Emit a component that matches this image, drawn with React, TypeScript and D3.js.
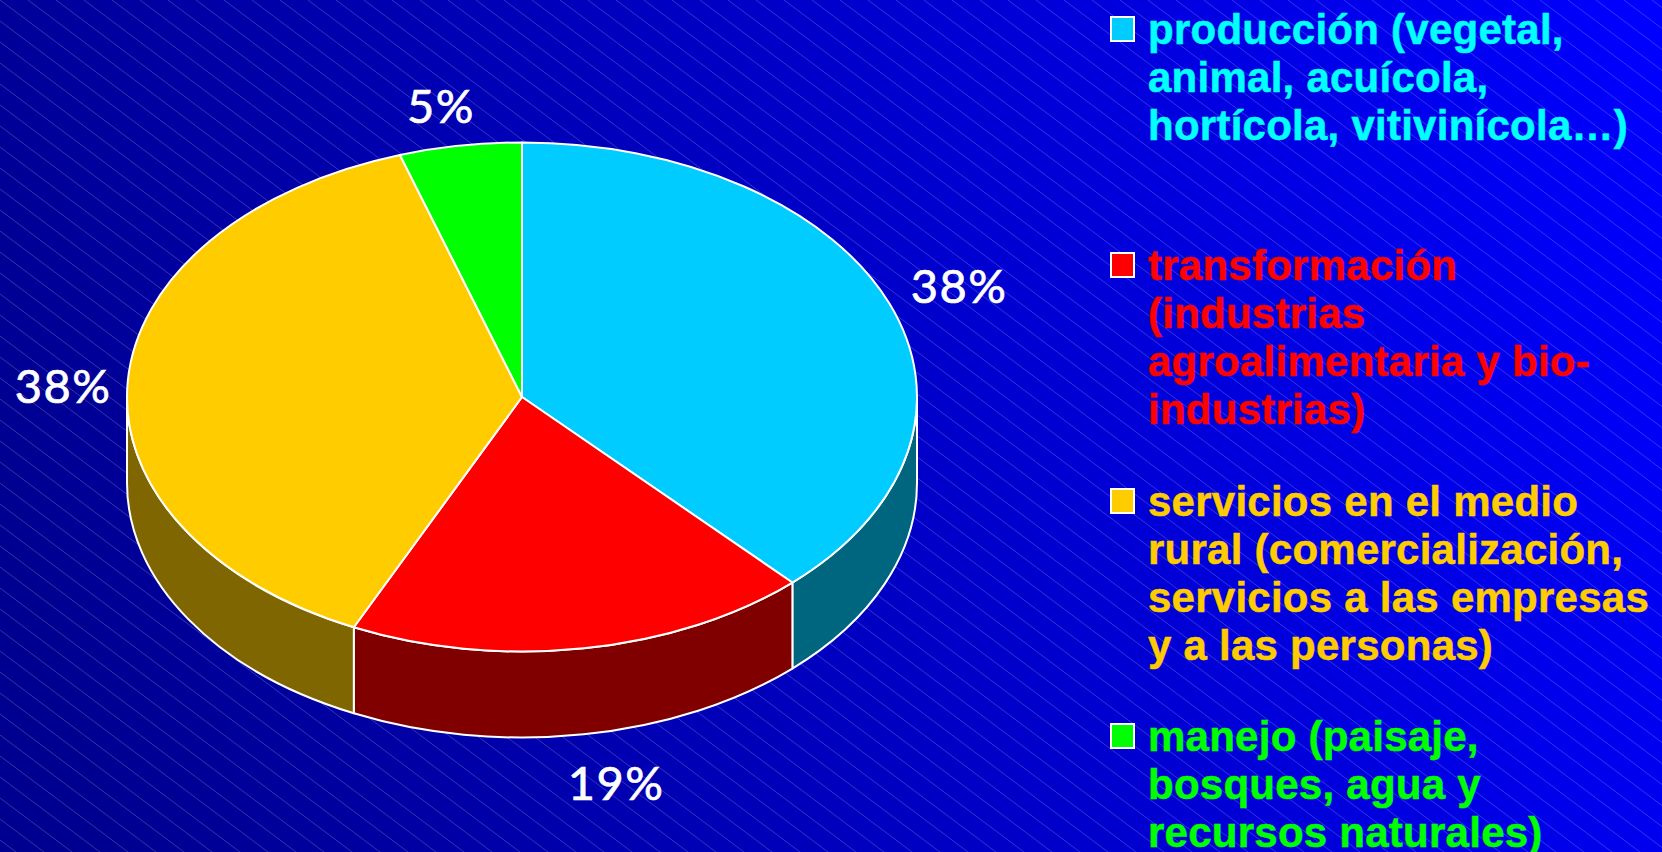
import React from "react";
import * as d3 from "d3";

const W = 1662, H = 852;
const categories = ["producción", "transformación", "servicios", "manejo"];
const values = [38, 19, 38, 5];
const labels = ["38%", "19%", "38%", "5%"];
const topColors = ["#00CCFF", "#FF0000", "#FFCC00", "#00FF00"];
const sideColors = ["#006680", "#800000", "#806600", "#008000"];
const legendColors = ["#00FFFF", "#FF0000", "#FFCC00", "#00FF00"];
const legendLines = [
  ["producción (vegetal,", "animal, acuícola,", "hortícola, vitivinícola…)"],
  ["transformación", "(industrias", "agroalimentaria y bio-", "industrias)"],
  ["servicios en el medio", "rural (comercialización,", "servicios a las empresas", "y a las personas)"],
  ["manejo (paisaje,", "bosques, agua y", "recursos naturales)"],
];
const legendFirstBaseline = [44, 280, 516, 751];
const labelPos = [[959, 303], [616, 800], [63, 403], [441, 123]];

const cx = 522, cy = 397, rx = 395, ry = 254.5, depth = 86;
const pt = (a: number, dy = 0): [number, number] => [cx + rx * Math.sin(a), cy - ry * Math.cos(a) + dy];

export default function App() {
  const arcs = d3.pie<number>().value((d) => d).sort(null)(values);
  const top = (s: number, e: number) => {
    const p0 = pt(s), p1 = pt(e);
    return `M${cx},${cy}L${p0}A${rx},${ry} 0 ${e - s > Math.PI ? 1 : 0} 1 ${p1}Z`;
  };
  const side = (s: number, e: number) => {
    const a0 = Math.max(s, Math.PI / 2), a1 = Math.min(e, 1.5 * Math.PI);
    if (a1 <= a0) return null;
    const p0 = pt(a0), p1 = pt(a1), q1 = pt(a1, depth), q0 = pt(a0, depth);
    return `M${p0}A${rx},${ry} 0 0 1 ${p1}L${q1}A${rx},${ry} 0 0 0 ${q0}Z`;
  };
  return (
    <svg width={W} height={H} viewBox={`0 0 ${W} ${H}`} style={{ position: "absolute", left: 0, top: 0, display: "block" }}>
      <defs>
        <linearGradient id="bg" gradientUnits="userSpaceOnUse" x1={0} y1={500} x2={1662} y2={0}>
          <stop offset="0" stopColor="#000090" />
          <stop offset="1" stopColor="#0000FF" />
        </linearGradient>
        <pattern id="hatch" width={28} height={21} patternUnits="userSpaceOnUse">
          <path d="M0,0L28,21" stroke="#fff" strokeOpacity={0.2} strokeWidth={1} />
        </pattern>
      </defs>
      <rect width={W} height={H} fill="url(#bg)" />
      <rect width={W} height={H} fill="url(#hatch)" />
      {arcs.map((a, i) => {
        const d = side(a.startAngle, a.endAngle);
        return d ? <path key={categories[i]} d={d} fill={sideColors[i]} stroke="#fff" strokeWidth={2} strokeLinejoin="round" /> : null;
      })}
      {arcs.map((a, i) => (
        <path key={categories[i]} d={top(a.startAngle, a.endAngle)} fill={topColors[i]} stroke="#fff" strokeWidth={2} strokeLinejoin="round" />
      ))}
      {labels.map((t, i) => (
        <text key={i} x={labelPos[i][0]} y={labelPos[i][1]} textAnchor="middle" fill="#fff" stroke="#fff" strokeWidth={0.7}
          fontFamily="Lato" fontSize={47} letterSpacing={1.5}>{t}</text>
      ))}
      {legendLines.map((lines, i) => (
        <g key={i}>
          <rect x={1111} y={legendFirstBaseline[i] - 27} width={23} height={24} fill={topColors[i]} stroke="#fff" strokeWidth={2} />
          {lines.map((l, j) => (
            <text key={j} x={1148} y={legendFirstBaseline[i] + j * 48} fill={legendColors[i]} stroke={legendColors[i]} strokeWidth={0.5}
              fontFamily="Liberation Sans" fontWeight={700} fontSize={42} letterSpacing={0.25}>{l}</text>
          ))}
        </g>
      ))}
    </svg>
  );
}
